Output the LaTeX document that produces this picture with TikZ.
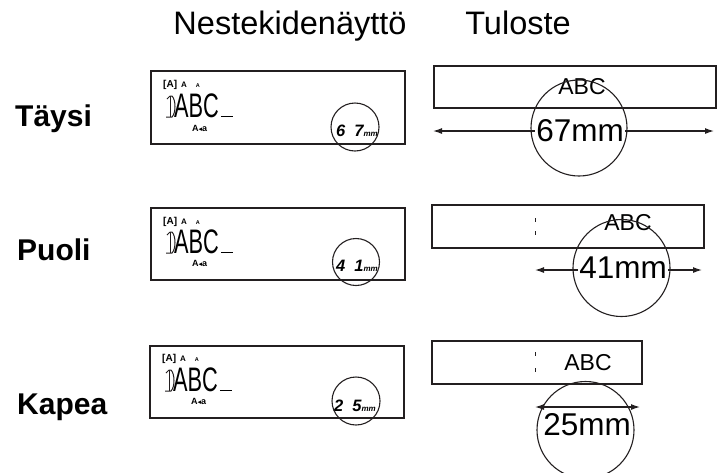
\documentclass[tikz,border=0pt]{standalone}
\usepackage{fontspec}
\setmainfont{Liberation Sans}
\newfontfamily\dejafont{DejaVu Sans}
\usetikzlibrary{arrows.meta}
\definecolor{ink}{HTML}{231F20}
\newcommand{\LcdTop}{{\fontsize{10}{10}\selectfont\bfseries [A]}\hspace{4pt}{\fontsize{8}{8}\selectfont\bfseries A}\hspace{9pt}{\fontsize{5.5}{5.5}\selectfont\bfseries A}}
\newcommand{\LcdMain}{\scalebox{0.64}[1]{\fontsize{34}{34}\selectfont ABC}\hspace{2pt}\rule{12pt}{1.3pt}}
\newcommand{\LcdSub}{{\fontsize{9}{9}\selectfont\bfseries A{\dejafont\fontsize{7}{7}\selectfont ◂}a}}
\newcommand{\LcdNum}[2]{{\fontsize{16.5}{16.5}\selectfont\bfseries\itshape #1\hspace{9pt}#2}{\fontsize{8}{8}\selectfont\bfseries\itshape mm}}
\begin{document}
\begin{tikzpicture}[x=1pt,y=-1pt,
  hdr/.style={font=\fontsize{32.5}{32.5}\selectfont, anchor=base, inner sep=0pt},
  rowlab/.style={font=\fontsize{30}{30}\selectfont\bfseries, anchor=base west, inner sep=0pt},
  box/.style={draw=ink, line width=1.6pt, inner sep=0pt, anchor=north west},
  ring/.style={draw=ink, line width=1.1pt, circle, inner sep=0pt, minimum size=#1},
  dimarrow/.style={draw=ink, line width=1.2pt, {Latex[length=9pt,width=6pt]}-{Latex[length=9pt,width=6pt]}},
  lcdtxt/.style={anchor=base west, inner sep=0pt},
  glyph/.style={draw=ink, line width=1pt},
  abc/.style={font=\fontsize{23}{23}\selectfont, text=black, inner sep=0pt},
  dimtxt/.style={font=\fontsize{31.5}{31.5}\selectfont, text=black, inner sep=1pt}
]
\useasboundingbox (0,0) rectangle (719,472);

% headers
\node[hdr] (hdrL) at (290,34.5) {Nestekidenäyttö};
\node[hdr] (hdrT) at (518,34.5) {Tuloste};

% row labels
\node[rowlab] (lab1) at (15,126) {Täysi};
\node[rowlab] (lab2) at (17,260) {Puoli};
\node[rowlab] (lab3) at (17,414) {Kapea};

% LCD boxes
\node[box, minimum width=254pt, minimum height=73pt] (lcd1) at (150,70) {};
\node[box, minimum width=254pt, minimum height=72pt] (lcd2) at (150,207) {};
\node[box, minimum width=254pt, minimum height=72pt] (lcd3) at (149,345) {};

% LCD "1)" glyphs
\foreach \gx/\gy in {166/117, 166/253, 165/391}{
  \begin{scope}[shift={(\gx,\gy)}]
    \draw[glyph] (1,-18) -- (4,-21);
    \draw[glyph] (4,-21) -- (4,0);
    \draw[glyph] (4,-21) -- (6,-21) .. controls (10,-17) and (10,-4) .. (6,0) -- (0,0);
  \end{scope}
}

% LCD contents row 1
\node[lcdtxt] (l1a) at (163,87) {\LcdTop};
\node[lcdtxt] (l1b) at (174,117) {\LcdMain};
\node[lcdtxt] (l1c) at (192,131) {\LcdSub};
\node[lcdtxt] (l1d) at (336,136) {\LcdNum{6}{7}};
\node[ring=48pt] (lc1) at (355,127) {};

% LCD contents row 2
\node[lcdtxt] (l2a) at (163,224) {\LcdTop};
\node[lcdtxt] (l2b) at (174,253) {\LcdMain};
\node[lcdtxt] (l2c) at (192,266) {\LcdSub};
\node[lcdtxt] (l2d) at (336,271) {\LcdNum{4}{1}};
\node[ring=47pt] (lc2) at (356,262) {};

% LCD contents row 3
\node[lcdtxt] (l3a) at (162,361) {\LcdTop};
\node[lcdtxt] (l3b) at (173,391) {\LcdMain};
\node[lcdtxt] (l3c) at (191,404) {\LcdSub};
\node[lcdtxt] (l3d) at (334,411) {\LcdNum{2}{5}};
\node[ring=48pt] (lc3) at (356,401) {};

% Tape row 1
\node[box, minimum width=282pt, minimum height=42pt] (tape1) at (433,65) {};
\coordinate (a1l) at (433,131);
\coordinate (a1r) at (714,131);
\draw[dimarrow] (a1l) -- (a1r);
\node[dimtxt, fill=white] (dim1) at (580,131) {67mm};
\node[abc] (abc1) at (582,87) {ABC};
\node[ring=96pt] (tc1) at (579,128) {};

% Tape row 2
\node[box, minimum width=272pt, minimum height=43pt] (tape2) at (431,204) {};
\draw[ink, line width=1pt] (535,218) -- (535,222) (535,231) -- (535,235);
\coordinate (a2l) at (535,270);
\coordinate (a2r) at (702,270);
\draw[dimarrow] (a2l) -- (a2r);
\node[dimtxt, fill=white] (dim2) at (623,268) {41mm};
\node[abc] (abc2) at (628,223) {ABC};
\node[ring=97pt] (tc2) at (621.5,268) {};

% Tape row 3
\node[box, minimum width=210pt, minimum height=43pt] (tape3) at (431,340) {};
\draw[ink, line width=1pt] (535,352) -- (535,356) (535,368) -- (535,372);
\coordinate (a3l) at (535,407);
\coordinate (a3r) at (640,407);
\draw[dimarrow] (a3l) -- (a3r);
\node[dimtxt] (dim3) at (587,425) {25mm};
\node[abc] (abc3) at (588,363) {ABC};
\node[ring=97pt] (tc3) at (585.5,430) {};
\end{tikzpicture}
\end{document}
